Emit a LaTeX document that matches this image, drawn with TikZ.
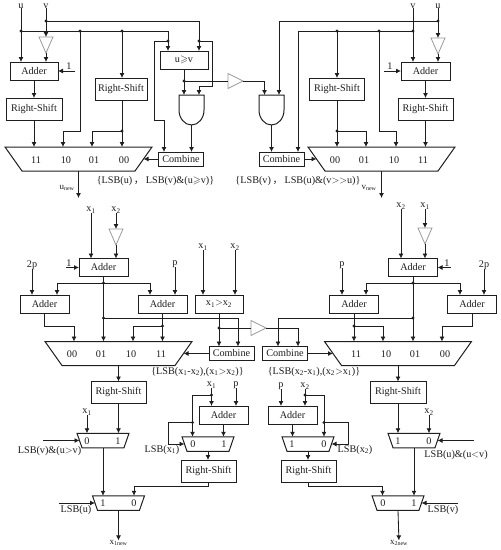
\documentclass[tikz,border=0pt]{standalone}
\usepackage{amssymb}
\usepackage{fontspec}
\setmainfont{Liberation Serif}
\newfontfamily\cjk{Noto Sans CJK SC}
\usetikzlibrary{arrows.meta}
\definecolor{ink}{HTML}{1E1E1E}
\tikzset{
  x=1pt,y=-1pt,
  every node/.style={inner sep=0pt,outer sep=0pt,text=ink},
  lab/.style={font=\fontsize{10.2}{12}\selectfont},
  small/.style={font=\fontsize{9}{11}\selectfont},
  box/.style 2 args={draw=ink,line width=1pt,font=\fontsize{10.2}{12}\selectfont,minimum width=#1pt,minimum height=#2pt},
  bigmux/.style={minimum width=147pt,minimum height=24pt},
  smallmux/.style={minimum width=52pt,minimum height=14.5pt},
  invd/.style={minimum width=14pt,minimum height=16pt},
  invr/.style={minimum width=15pt,minimum height=15pt},
  andshape/.style={minimum width=25pt,minimum height=30pt},
  wire/.style={draw=ink,line width=.85pt},
  arr/.style={wire,-{Latex[length=5pt,width=5pt]}},
  gate/.style={draw=black!40,line width=.8pt,fill=white},
}
\newcommand{\andoutline}[1]{\draw[ink,line width=1pt] (#1.north west) -- (#1.north east) -- (#1.east) arc[start angle=0,end angle=-180,x radius=12.5pt,y radius=15pt] -- cycle;}
\newcommand{\muxoutline}[2]{\draw[ink,line width=1pt] (#1.north west) -- (#1.north east) -- ([xshift=-#2]#1.south east) -- ([xshift=#2]#1.south west) -- cycle;
  \coordinate (#1-l) at ([xshift=#2/2]#1.west); \coordinate (#1-r) at ([xshift=-#2/2]#1.east);}
\newcommand{\invdown}[1]{\draw[gate] (#1.north west) -- (#1.north east) -- (#1.south) -- cycle;}
\newcommand{\invright}[1]{\draw[gate] (#1.north west) -- (#1.south west) -- (#1.east) -- cycle;}
\newcommand{\sbs}[1]{\textsubscript{#1}}
\begin{document}
\begin{tikzpicture}
\useasboundingbox (0,0) rectangle (501,550);
% ---------- junctions / bends, top
\coordinate (j1) at (21,31); \coordinate (j2) at (46,21); \coordinate (j3) at (80,31);
\coordinate (j4) at (122,31); \coordinate (j6) at (168,41); \coordinate (j7) at (199,41);
\coordinate (j8) at (184,81); \coordinate (j4b) at (122,131);
\coordinate (c1) at (63,131); \coordinate (c1b) at (92,131); \coordinate (c2) at (154,120); \coordinate (c3) at (164,120);
\coordinate (c4) at (212,86); \coordinate (c5) at (199,86); \coordinate (c6) at (264.5,81);
\coordinate (r1) at (438,21); \coordinate (r2) at (413,31); \coordinate (r3) at (337,31); \coordinate (r4) at (379,31);
\coordinate (r5) at (279,21); \coordinate (r6) at (298,31); \coordinate (r3b) at (337,131);
\coordinate (r7) at (366,131); \coordinate (r8) at (396,131);
\coordinate (e1) at (75,71); \coordinate (e2) at (384,71); \coordinate (o1) at (78.5,198); \coordinate (o2) at (381.5,198);
% ---------- top labels
\node[lab] (lu) at (21,6) {u}; \node[lab] (lv) at (46,6) {v};
\node[lab] (rv) at (413,6) {v}; \node[lab] (ru) at (438,6) {u};
\node[lab] (one1) at (69,66) {1}; \node[lab] (one2) at (390,66) {1};
% ---------- top boxes
\node[box={48}{18}] (a1) at (34,71) {Adder};
\node[box={56}{22}] (rs1) at (34,109) {Right-Shift};
\node[box={52}{22}] (rs2) at (121,89) {Right-Shift};
\node[box={48}{18}] (cmp1) at (184,60) {u$\geqslant$v};
\node[box={45}{14}] (comb1) at (181,159) {Combine};
\node[bigmux] (m1) at (78.5,159) {}; \muxoutline{m1}{17pt}
\node[lab] (m1a) at (36,160) {11}; \node[lab] (m1b) at (66,160) {10}; \node[lab] (m1c) at (94,160) {01}; \node[lab] (m1d) at (124,160) {00};
\node[andshape] (and1) at (191.5,110) {}; \andoutline{and1}
\node[invd] (inv1) at (46,45) {}; \invdown{inv1}
\node[invr] (inv2) at (235.5,81) {}; \invright{inv2}
\node[box={49}{18}] (a2) at (425.5,71) {Adder};
\node[box={55}{22}] (rs4) at (425.5,109) {Right-Shift};
\node[box={55}{22}] (rs3) at (337,89) {Right-Shift};
\node[box={45}{14}] (comb2) at (281.5,159) {Combine};
\node[bigmux] (m2) at (381.5,159) {}; \muxoutline{m2}{17pt}
\node[lab] (m2a) at (335,160) {00}; \node[lab] (m2b) at (364,160) {01}; \node[lab] (m2c) at (394,160) {10}; \node[lab] (m2d) at (423,160) {11};
\node[andshape] (and2) at (271.5,110) {}; \andoutline{and2}
\node[invd] (inv6) at (438,46) {}; \invdown{inv6}
\node[lab] (lset1) at (155.5,181) {\{LSB(u)\,{\cjk ，}\,LSB(v)\&(u$\geqslant$v)\}};
\node[lab] (lset2) at (298,181) {\{LSB(v)\,{\cjk ，}\,LSB(u)\&(v$>$$>$u)\}};
\node[small] (unew) at (67,188) {u\sbs{new}};
\node[small] (vnew) at (369,188) {v\sbs{new}};
% ---------- top wires left
\draw[arr] (lu) -- (lu |- a1.north);
\draw[arr] (lv) -- (inv1.north);
\draw[arr] (inv1.south) -- (inv1.south |- a1.north);
\draw[arr] (e1) -- (e1 -| a1.east);
\draw[arr] (a1.south) -- (a1.south |- rs1.north);
\draw[arr] (rs1.south) -- (rs1.south |- m1.north);
\draw[arr] (j1) -| (j6 |- cmp1.north);
\draw[arr] (j2) -| (j7 |- cmp1.north);
\draw[arr] (j3) |- (c1) -- (c1 |- m1.north);
\draw[arr] (j4) -- (j4 |- rs2.north);
\draw[arr] (j4 |- rs2.south) -- (j4 |- m1.north);
\draw[arr] (j4b) -- (c1b) -- (c1b |- m1.north);
\draw[arr] (j6) -| (c2) -- (c3) -- (c3 |- comb1.north);
\draw[arr] (j7) -| (c4) -- (c5) -- (c5 |- and1.north);
\draw[arr] (cmp1.south) -- (cmp1.south |- and1.north);
\draw[wire] (j8) -- (inv2.west);
\draw[arr] (inv2.east) -| (c6 |- and2.north);
\draw[arr] (and1.south) -- (and1.south |- comb1.north);
\draw[arr] (comb1.west) -- (m1-r);
\draw[arr] (m1.south) -- (o1);
% ---------- top wires right
\draw[arr] (rv) -- (rv |- a2.north);
\draw[arr] (ru) -- (inv6.north);
\draw[arr] (inv6.south) -- (inv6.south |- a2.north);
\draw[arr] (e2) -- (e2 -| a2.west);
\draw[arr] (a2.south) -- (a2.south |- rs4.north);
\draw[arr] (rs4.south) -- (rs4.south |- m2.north);
\draw[arr] (r1) -| (r5 |- and2.north);
\draw[arr] (r2) -| (r6 |- comb2.north);
\draw[arr] (r3) -- (r3 |- rs3.north);
\draw[arr] (rs3.south) -- (rs3.south |- m2.north);
\draw[arr] (r3b) -- (r7) -- (r7 |- m2.north);
\draw[arr] (r4) |- (r8) -- (r8 |- m2.north);
\draw[arr] (and2.south) -- (and2.south |- comb2.north);
\draw[arr] (comb2.east) -- (m2-l);
\draw[arr] (m2.south) -- (o2);
% ---------- middle coordinates
\coordinate (k1) at (103.5,283); \coordinate (k2) at (103.5,318); \coordinate (k3) at (57,283); \coordinate (k4) at (150,283);
\coordinate (k5) at (74,326); \coordinate (k6) at (162.5,326); \coordinate (k7) at (133,326); \coordinate (k8) at (238,318);
\coordinate (k9) at (219,328); \coordinate (k10) at (298,328);
\coordinate (n1) at (413,283); \coordinate (n2) at (413,318); \coordinate (n3) at (366,283); \coordinate (n4) at (460,283);
\coordinate (n5) at (354,326); \coordinate (n6) at (383,326); \coordinate (n7) at (442,326); \coordinate (n8) at (278,318);
\coordinate (e3) at (66,267.5); \coordinate (e4) at (451,267.5);
% ---------- middle nodes
\node[lab] (x1a) at (91,210) {x\sbs{1}}; \node[lab] (x2a) at (116,210) {x\sbs{2}};
\node[lab] (x2b) at (401,206) {x\sbs{2}}; \node[lab] (x1b) at (425,206) {x\sbs{1}};
\node[lab] (x1c) at (203,247) {x\sbs{1}}; \node[lab] (x2c) at (235,247) {x\sbs{2}};
\node[lab] (p2a) at (32,265) {2p}; \node[lab] (pa) at (175,264) {p};
\node[lab] (pb) at (342,265) {p}; \node[lab] (p2b) at (484,265) {2p};
\node[lab] (one3) at (69,263) {1}; \node[lab] (one4) at (447,263) {1};
\node[invd] (inv3) at (116,237) {}; \invdown{inv3}
\node[invd] (inv5) at (425,236) {}; \invdown{inv5}
\node[invr] (inv4) at (258.5,328) {}; \invright{inv4}
\node[box={49}{18}] (a3) at (103.5,267.5) {Adder};
\node[box={49}{18}] (a4) at (44.5,304) {Adder};
\node[box={49}{18}] (a5) at (162.5,304) {Adder};
\node[box={48}{18}] (cmp2) at (219,304) {x\sbs{1}$>$x\sbs{2}};
\node[box={49}{18}] (a6) at (413,267.5) {Adder};
\node[box={49}{18}] (a7) at (354,304) {Adder};
\node[box={49}{18}] (a8) at (472,304) {Adder};
\node[box={45}{14}] (comb3) at (231.5,353.5) {Combine};
\node[box={45}{14}] (comb4) at (285,353.5) {Combine};
\node[bigmux] (m3) at (118.5,353.5) {}; \muxoutline{m3}{17pt}
\node[bigmux] (m4) at (398,353.5) {}; \muxoutline{m4}{17pt}
\node[lab] (m3a) at (72,354) {00}; \node[lab] (m3b) at (101,354) {01}; \node[lab] (m3c) at (131,354) {10}; \node[lab] (m3d) at (161,354) {11};
\node[lab] (m4a) at (356,354) {11}; \node[lab] (m4b) at (386,354) {10}; \node[lab] (m4c) at (415,354) {01}; \node[lab] (m4d) at (445,354) {00};
\node[lab] (lset3) at (197.5,372) {\{LSB(x\sbs{1}-x\sbs{2}),(x\sbs{1}$>$x\sbs{2})\}};
\node[lab] (lset4) at (314,372) {\{LSB(x\sbs{2}-x\sbs{1}),(x\sbs{2}$>$x\sbs{1})\}};
% ---------- middle wires
\draw[arr] (x1a) -- (x1a |- a3.north);
\draw[arr] (x2a) -- (inv3.north);
\draw[arr] (inv3.south) -- (inv3.south |- a3.north);
\draw[arr] (e3) -- (e3 -| a3.west);
\draw[arr] (a3.south) -- (a3.south |- m3.north);
\draw[arr] (k1) -| (k3 |- a4.north);
\draw[arr] (k1) -| (k4 |- a5.north);
\draw[arr] (p2a) -- (p2a |- a4.north);
\draw[arr] (pa) -- (pa |- a5.north);
\draw[arr] (x1c) -- (x1c |- cmp2.north);
\draw[arr] (x2c) -- (x2c |- cmp2.north);
\draw[arr] (a4.south) |- (k5) -- (k5 |- m3.north);
\draw[arr] (a5.south) -- (a5.south |- m3.north);
\draw[arr] (k6) -- (k7) -- (k7 |- m3.north);
\draw[arr] (k2) -| (k8 |- comb3.north);
\draw[arr] (k9 |- cmp2.south) -- (k9 |- comb3.north);
\draw[wire] (k9) -- (inv4.west);
\draw[arr] (inv4.east) -| (k10 |- comb4.north);
\draw[arr] (comb3.west) -- (m3-r);
\draw[arr] (x2b) -- (x2b |- a6.north);
\draw[arr] (x1b) -- (inv5.north);
\draw[arr] (inv5.south) -- (inv5.south |- a6.north);
\draw[arr] (e4) -- (e4 -| a6.east);
\draw[arr] (a6.south) -- (a6.south |- m4.north);
\draw[arr] (n1) -| (n3 |- a7.north);
\draw[arr] (n1) -| (n4 |- a8.north);
\draw[arr] (pb) -- (pb |- a7.north);
\draw[arr] (p2b) -- (p2b |- a8.north);
\draw[arr] (a7.south) -- (a7.south |- m4.north);
\draw[arr] (n5) -- (n6) -- (n6 |- m4.north);
\draw[arr] (a8.south) |- (n7) -- (n7 |- m4.north);
\draw[arr] (n2) -| (n8 |- comb4.north);
\draw[arr] (comb4.east) -- (m4-l);
% ---------- bottom coordinates
\coordinate (b1) at (211.5,395); \coordinate (b2) at (192.5,422.5); \coordinate (b3) at (168.5,444); \coordinate (b4) at (134,486.5);
\coordinate (b5) at (305,395); \coordinate (b6) at (324,422.5); \coordinate (b7) at (348.5,444); \coordinate (b8) at (382.5,486.5);
\coordinate (e5) at (43,440.5); \coordinate (e6) at (59,503); \coordinate (e7) at (474,440.5); \coordinate (e8) at (458,503);
\coordinate (b9) at (192.5,395); \coordinate (b10) at (324,395);
% ---------- bottom nodes
\node[box={55}{22}] (rs5) at (118.5,392.5) {Right-Shift};
\node[box={56}{22}] (rs6) at (398,392.5) {Right-Shift};
\node[box={49}{18}] (b1a) at (223.5,415) {Adder};
\node[box={49}{18}] (b2a) at (292.5,415) {Adder};
\node[box={55}{22}] (rs7) at (208.5,471) {Right-Shift};
\node[box={55}{22}] (rs8) at (308.5,471) {Right-Shift};
\node[smallmux] (m5) at (103,440.5) {}; \muxoutline{m5}{5pt}
\node[smallmux] (m6) at (118.5,503) {}; \muxoutline{m6}{5pt}
\node[smallmux] (m7) at (208,444) {}; \muxoutline{m7}{5pt}
\node[smallmux] (m8) at (308,444) {}; \muxoutline{m8}{5pt}
\node[smallmux] (m9) at (414,440.5) {}; \muxoutline{m9}{5pt}
\node[smallmux] (m10) at (398,503) {}; \muxoutline{m10}{5pt}
\node[lab] (m5a) at (87,441) {0}; \node[lab] (m5b) at (118,441) {1};
\node[lab] (m6a) at (103,503) {1}; \node[lab] (m6b) at (134,503) {0};
\node[lab] (m7a) at (193,444) {0}; \node[lab] (m7b) at (224,444) {1};
\node[lab] (m8a) at (292,444) {1}; \node[lab] (m8b) at (324,444) {0};
\node[lab] (m9a) at (398,441) {1}; \node[lab] (m9b) at (429,441) {0};
\node[lab] (m10a) at (383,503) {0}; \node[lab] (m10b) at (414,503) {1};
\node[lab] (x1d) at (87,412) {x\sbs{1}};
\node[lab] (x1e) at (211.5,385) {x\sbs{1}}; \node[lab] (pc) at (236,385) {p};
\node[lab] (pd) at (281,386) {p}; \node[lab] (x2e) at (305,386) {x\sbs{2}};
\node[lab] (x2d) at (429,412) {x\sbs{2}};
\node[lab] (lb1) at (49.5,451) {LSB(v)\&(u$>$v)};
\node[lab] (lb2) at (76,510) {LSB(u)};
\node[lab] (lb3) at (162,450) {LSB(x\sbs{1})};
\node[lab] (lb4) at (355,450) {LSB(x\sbs{2})};
\node[lab] (lb5) at (456,455) {LSB(u)\&(u$<$v)};
\node[lab] (lb6) at (443,510) {LSB(v)};
\node[small] (xn1) at (118.5,543) {x\sbs{1new}};
\node[small] (xn2) at (399,543) {x\sbs{2new}};
% ---------- bottom wires
\draw[arr] (m3.south) -- (m3.south |- rs5.north);
\draw[arr] (rs5.south) -- (rs5.south |- m5.north);
\draw[arr] (x1d) -- (x1d |- m5.north);
\draw[arr] (e5) -- (m5-l);
\draw[arr] (m5.south) -- (m5.south |- m6.north);
\draw[arr] (e6) -- (m6-l);
\draw[arr] (m6.south) -- (xn1);
\draw[arr] (x1e) -- (x1e |- b1a.north);
\draw[arr] (pc) -- (pc |- b1a.north);
\draw[arr] (b1) -- (b9) -- (b9 |- m7.north);
\draw[arr] (b2) -| (b3) -- (m7-l);
\draw[arr] (b1a.south) -- (b1a.south |- m7.north);
\draw[arr] (m7.south) -- (m7.south |- rs7.north);
\draw[arr] (rs7.south) |- (b4) -- (b4 |- m6.north);
\draw[arr] (m4.south) -- (m4.south |- rs6.north);
\draw[arr] (rs6.south) -- (rs6.south |- m9.north);
\draw[arr] (x2d) -- (x2d |- m9.north);
\draw[arr] (e7) -- (m9-r);
\draw[arr] (m9.south) -- (m9.south |- m10.north);
\draw[arr] (e8) -- (m10-r);
\draw[arr] (m10.south) -- (xn2);
\draw[arr] (pd) -- (pd |- b2a.north);
\draw[arr] (x2e) -- (x2e |- b2a.north);
\draw[arr] (b5) -- (b10) -- (b10 |- m8.north);
\draw[arr] (b6) -| (b7) -- (m8-r);
\draw[arr] (b2a.south) -- (b2a.south |- m8.north);
\draw[arr] (m8.south) -- (m8.south |- rs8.north);
\draw[arr] (rs8.south) |- (b8) -- (b8 |- m10.north);
% ---------- dots
\foreach \d in {j1,j2,j3,j4,j6,j7,j8,j4b,r1,r2,r3,r4,r3b,k1,k2,k6,k9,n1,n2,n5,b1,b2,b5,b6}
  \fill[ink] (\d) circle (1.6pt);
\end{tikzpicture}
\end{document}
